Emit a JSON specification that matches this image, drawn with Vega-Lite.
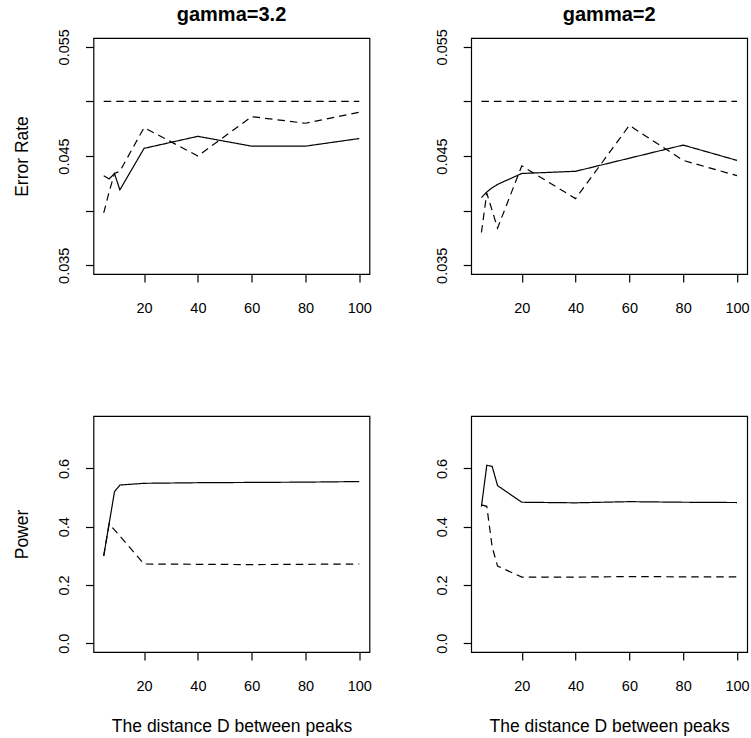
{
  "$schema": "https://vega.github.io/schema/vega-lite/v6.json",
  "background": "white",
  "padding": {"left": 11.5, "top": 4, "right": 0, "bottom": 0},
  "config": {
    "font": "Liberation Sans",
    "view": {"stroke": "black", "strokeWidth": 1.2},
    "axis": {
      "domain": false,
      "grid": false,
      "ticks": true,
      "tickColor": "black",
      "tickWidth": 1.2,
      "tickSize": 8,
      "labelColor": "black",
      "labelFont": "Liberation Sans",
      "labelFontSize": 14.5,
      "labelOverlap": false,
      "labelFlush": false,
      "labelBound": false,
      "titleColor": "black",
      "titleFont": "Liberation Sans",
      "titleFontSize": 17.5,
      "titleFontWeight": "normal"
    },
    "axisX": {"labelBaseline": "alphabetic", "labelAlign": "center", "labelPadding": 30, "titleBaseline": "alphabetic", "titleY": 79, "titleAlign": "center"},
    "axisY": {"labelAngle": 270, "labelAlign": "center", "labelBaseline": "alphabetic", "labelPadding": 17, "titleAngle": 270, "titleBaseline": "alphabetic", "titleAlign": "center", "titleX": -66.5, "titleY": 118},
    "title": {"font": "Liberation Sans", "fontSize": 20, "fontWeight": "bold", "color": "black", "anchor": "middle", "frame": "group", "baseline": "alphabetic", "offset": 3.5},
    "line": {"color": "black", "strokeWidth": 1.2}
  },
  "datasets": {
    "runs": [
      {"gamma": "3.2", "measure": "Error Rate", "series": "method 1", "D": 5, "value": 0.0432},
      {"gamma": "3.2", "measure": "Error Rate", "series": "method 1", "D": 7, "value": 0.0429},
      {"gamma": "3.2", "measure": "Error Rate", "series": "method 1", "D": 9, "value": 0.0434},
      {"gamma": "3.2", "measure": "Error Rate", "series": "method 1", "D": 11, "value": 0.0419},
      {"gamma": "3.2", "measure": "Error Rate", "series": "method 1", "D": 20, "value": 0.0457},
      {"gamma": "3.2", "measure": "Error Rate", "series": "method 1", "D": 40, "value": 0.0468},
      {"gamma": "3.2", "measure": "Error Rate", "series": "method 1", "D": 60, "value": 0.0459},
      {"gamma": "3.2", "measure": "Error Rate", "series": "method 1", "D": 80, "value": 0.0459},
      {"gamma": "3.2", "measure": "Error Rate", "series": "method 1", "D": 100, "value": 0.0466},
      {"gamma": "3.2", "measure": "Error Rate", "series": "method 2", "D": 5, "value": 0.0398},
      {"gamma": "3.2", "measure": "Error Rate", "series": "method 2", "D": 7, "value": 0.0417},
      {"gamma": "3.2", "measure": "Error Rate", "series": "method 2", "D": 9, "value": 0.0434},
      {"gamma": "3.2", "measure": "Error Rate", "series": "method 2", "D": 11, "value": 0.0436},
      {"gamma": "3.2", "measure": "Error Rate", "series": "method 2", "D": 20, "value": 0.0476},
      {"gamma": "3.2", "measure": "Error Rate", "series": "method 2", "D": 40, "value": 0.0450},
      {"gamma": "3.2", "measure": "Error Rate", "series": "method 2", "D": 60, "value": 0.0486},
      {"gamma": "3.2", "measure": "Error Rate", "series": "method 2", "D": 80, "value": 0.0480},
      {"gamma": "3.2", "measure": "Error Rate", "series": "method 2", "D": 100, "value": 0.0490},
      {"gamma": "3.2", "measure": "Error Rate", "series": "nominal", "D": 5, "value": 0.05},
      {"gamma": "3.2", "measure": "Error Rate", "series": "nominal", "D": 100, "value": 0.05},

      {"gamma": "2", "measure": "Error Rate", "series": "method 1", "D": 5, "value": 0.0412},
      {"gamma": "2", "measure": "Error Rate", "series": "method 1", "D": 7, "value": 0.0417},
      {"gamma": "2", "measure": "Error Rate", "series": "method 1", "D": 9, "value": 0.0421},
      {"gamma": "2", "measure": "Error Rate", "series": "method 1", "D": 11, "value": 0.0424},
      {"gamma": "2", "measure": "Error Rate", "series": "method 1", "D": 20, "value": 0.0434},
      {"gamma": "2", "measure": "Error Rate", "series": "method 1", "D": 40, "value": 0.0436},
      {"gamma": "2", "measure": "Error Rate", "series": "method 1", "D": 60, "value": 0.0448},
      {"gamma": "2", "measure": "Error Rate", "series": "method 1", "D": 80, "value": 0.0460},
      {"gamma": "2", "measure": "Error Rate", "series": "method 1", "D": 100, "value": 0.0446},
      {"gamma": "2", "measure": "Error Rate", "series": "method 2", "D": 5, "value": 0.0380},
      {"gamma": "2", "measure": "Error Rate", "series": "method 2", "D": 7, "value": 0.0416},
      {"gamma": "2", "measure": "Error Rate", "series": "method 2", "D": 9, "value": 0.0400},
      {"gamma": "2", "measure": "Error Rate", "series": "method 2", "D": 11, "value": 0.0384},
      {"gamma": "2", "measure": "Error Rate", "series": "method 2", "D": 20, "value": 0.0441},
      {"gamma": "2", "measure": "Error Rate", "series": "method 2", "D": 40, "value": 0.0411},
      {"gamma": "2", "measure": "Error Rate", "series": "method 2", "D": 60, "value": 0.0478},
      {"gamma": "2", "measure": "Error Rate", "series": "method 2", "D": 80, "value": 0.0446},
      {"gamma": "2", "measure": "Error Rate", "series": "method 2", "D": 100, "value": 0.0432},
      {"gamma": "2", "measure": "Error Rate", "series": "nominal", "D": 5, "value": 0.05},
      {"gamma": "2", "measure": "Error Rate", "series": "nominal", "D": 100, "value": 0.05},

      {"gamma": "3.2", "measure": "Power", "series": "method 1", "D": 5, "value": 0.300},
      {"gamma": "3.2", "measure": "Power", "series": "method 1", "D": 7, "value": 0.410},
      {"gamma": "3.2", "measure": "Power", "series": "method 1", "D": 9, "value": 0.520},
      {"gamma": "3.2", "measure": "Power", "series": "method 1", "D": 11, "value": 0.543},
      {"gamma": "3.2", "measure": "Power", "series": "method 1", "D": 20, "value": 0.549},
      {"gamma": "3.2", "measure": "Power", "series": "method 1", "D": 40, "value": 0.551},
      {"gamma": "3.2", "measure": "Power", "series": "method 1", "D": 60, "value": 0.552},
      {"gamma": "3.2", "measure": "Power", "series": "method 1", "D": 80, "value": 0.553},
      {"gamma": "3.2", "measure": "Power", "series": "method 1", "D": 100, "value": 0.555},
      {"gamma": "3.2", "measure": "Power", "series": "method 2", "D": 5, "value": 0.300},
      {"gamma": "3.2", "measure": "Power", "series": "method 2", "D": 7, "value": 0.410},
      {"gamma": "3.2", "measure": "Power", "series": "method 2", "D": 9, "value": 0.389},
      {"gamma": "3.2", "measure": "Power", "series": "method 2", "D": 11, "value": 0.368},
      {"gamma": "3.2", "measure": "Power", "series": "method 2", "D": 20, "value": 0.272},
      {"gamma": "3.2", "measure": "Power", "series": "method 2", "D": 40, "value": 0.271},
      {"gamma": "3.2", "measure": "Power", "series": "method 2", "D": 60, "value": 0.270},
      {"gamma": "3.2", "measure": "Power", "series": "method 2", "D": 80, "value": 0.271},
      {"gamma": "3.2", "measure": "Power", "series": "method 2", "D": 100, "value": 0.272},

      {"gamma": "2", "measure": "Power", "series": "method 1", "D": 5, "value": 0.469},
      {"gamma": "2", "measure": "Power", "series": "method 1", "D": 7, "value": 0.611},
      {"gamma": "2", "measure": "Power", "series": "method 1", "D": 9, "value": 0.607},
      {"gamma": "2", "measure": "Power", "series": "method 1", "D": 11, "value": 0.541},
      {"gamma": "2", "measure": "Power", "series": "method 1", "D": 20, "value": 0.484},
      {"gamma": "2", "measure": "Power", "series": "method 1", "D": 40, "value": 0.482},
      {"gamma": "2", "measure": "Power", "series": "method 1", "D": 60, "value": 0.486},
      {"gamma": "2", "measure": "Power", "series": "method 1", "D": 80, "value": 0.484},
      {"gamma": "2", "measure": "Power", "series": "method 1", "D": 100, "value": 0.483},
      {"gamma": "2", "measure": "Power", "series": "method 2", "D": 5, "value": 0.475},
      {"gamma": "2", "measure": "Power", "series": "method 2", "D": 7, "value": 0.470},
      {"gamma": "2", "measure": "Power", "series": "method 2", "D": 9, "value": 0.330},
      {"gamma": "2", "measure": "Power", "series": "method 2", "D": 11, "value": 0.265},
      {"gamma": "2", "measure": "Power", "series": "method 2", "D": 20, "value": 0.227},
      {"gamma": "2", "measure": "Power", "series": "method 2", "D": 40, "value": 0.227},
      {"gamma": "2", "measure": "Power", "series": "method 2", "D": 60, "value": 0.229},
      {"gamma": "2", "measure": "Power", "series": "method 2", "D": 80, "value": 0.228},
      {"gamma": "2", "measure": "Power", "series": "method 2", "D": 100, "value": 0.228}
    ]
  },
  "columns": 2,
  "bounds": "flush",
  "spacing": {"row": 142, "column": 101.7},
  "concat": [
    {
      "title": {"text": "gamma=3.2"},
      "width": 276, "height": 236,
      "data": {"name": "runs"},
      "transform": [{"filter": "datum.gamma == '3.2' && datum.measure == 'Error Rate'"}],
      "mark": {"type": "line", "clip": true},
      "encoding": {
        "x": {"field": "D", "type": "quantitative", "scale": {"domain": [1.2, 103.8], "nice": false, "zero": false},
              "axis": {"values": [20, 40, 60, 80, 100], "title": null}},
        "y": {"field": "value", "type": "quantitative", "scale": {"domain": [0.0342, 0.0558], "nice": false, "zero": false},
              "axis": {"values": [0.035, 0.04, 0.045, 0.05, 0.055], "title": "Error Rate",
                       "labelExpr": "(datum.value < 0.0375 || (datum.value > 0.0425 && datum.value < 0.0475) || datum.value > 0.0525) ? format(datum.value, '.3f') : ''"}},
        "strokeDash": {"field": "series", "type": "nominal", "legend": null,
                       "scale": {"domain": ["method 1", "method 2", "nominal"], "range": [[1, 0], [7.5, 5], [7.5, 5]]}}
      }
    },
    {
      "title": {"text": "gamma=2"},
      "width": 276, "height": 236,
      "data": {"name": "runs"},
      "transform": [{"filter": "datum.gamma == '2' && datum.measure == 'Error Rate'"}],
      "mark": {"type": "line", "clip": true},
      "encoding": {
        "x": {"field": "D", "type": "quantitative", "scale": {"domain": [1.2, 103.8], "nice": false, "zero": false},
              "axis": {"values": [20, 40, 60, 80, 100], "title": null}},
        "y": {"field": "value", "type": "quantitative", "scale": {"domain": [0.0342, 0.0558], "nice": false, "zero": false},
              "axis": {"values": [0.035, 0.04, 0.045, 0.05, 0.055], "title": null,
                       "labelExpr": "(datum.value < 0.0375 || (datum.value > 0.0425 && datum.value < 0.0475) || datum.value > 0.0525) ? format(datum.value, '.3f') : ''"}},
        "strokeDash": {"field": "series", "type": "nominal", "legend": null,
                       "scale": {"domain": ["method 1", "method 2", "nominal"], "range": [[1, 0], [7.5, 5], [7.5, 5]]}}
      }
    },
    {
      "width": 276, "height": 236,
      "data": {"name": "runs"},
      "transform": [{"filter": "datum.gamma == '3.2' && datum.measure == 'Power'"}],
      "mark": {"type": "line", "clip": true},
      "encoding": {
        "x": {"field": "D", "type": "quantitative", "scale": {"domain": [1.2, 103.8], "nice": false, "zero": false},
              "axis": {"values": [20, 40, 60, 80, 100], "title": "The distance D between peaks"}},
        "y": {"field": "value", "type": "quantitative", "scale": {"domain": [-0.03, 0.78], "nice": false, "zero": false},
              "axis": {"values": [0, 0.2, 0.4, 0.6], "format": ".1f", "title": "Power"}},
        "strokeDash": {"field": "series", "type": "nominal", "legend": null,
                       "scale": {"domain": ["method 1", "method 2", "nominal"], "range": [[1, 0], [7.5, 5], [7.5, 5]]}}
      }
    },
    {
      "width": 276, "height": 236,
      "data": {"name": "runs"},
      "transform": [{"filter": "datum.gamma == '2' && datum.measure == 'Power'"}],
      "mark": {"type": "line", "clip": true},
      "encoding": {
        "x": {"field": "D", "type": "quantitative", "scale": {"domain": [1.2, 103.8], "nice": false, "zero": false},
              "axis": {"values": [20, 40, 60, 80, 100], "title": "The distance D between peaks"}},
        "y": {"field": "value", "type": "quantitative", "scale": {"domain": [-0.03, 0.78], "nice": false, "zero": false},
              "axis": {"values": [0, 0.2, 0.4, 0.6], "format": ".1f", "title": null}},
        "strokeDash": {"field": "series", "type": "nominal", "legend": null,
                       "scale": {"domain": ["method 1", "method 2", "nominal"], "range": [[1, 0], [7.5, 5], [7.5, 5]]}}
      }
    }
  ]
}
